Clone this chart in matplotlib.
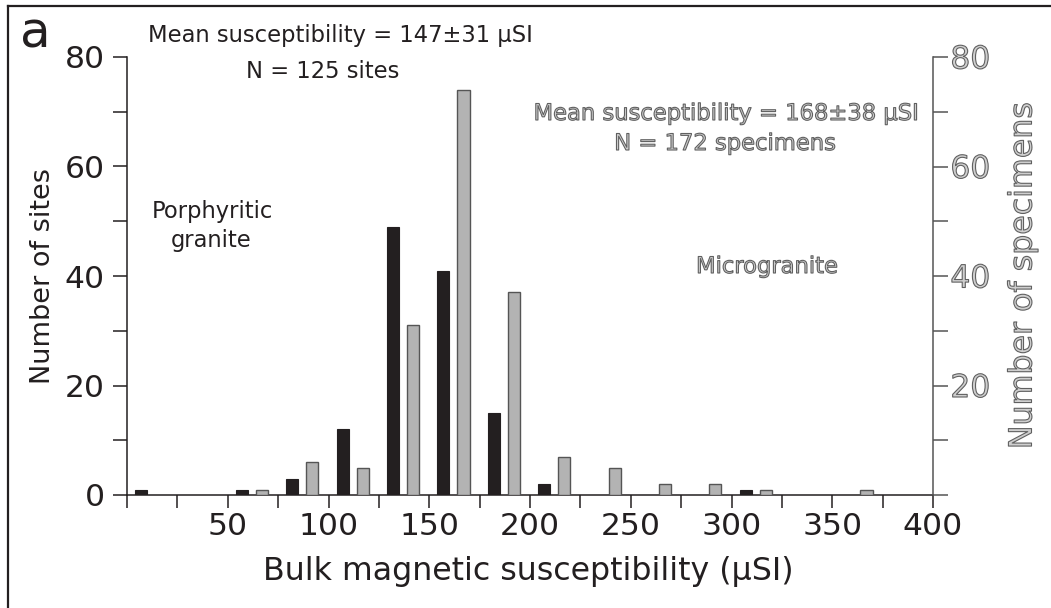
import numpy as np
import matplotlib
matplotlib.use("Agg")
import matplotlib.pyplot as plt
import matplotlib.patheffects as pe
from matplotlib.lines import Line2D

# bins of 25 uSI, left edges
bin_left = np.arange(0, 400, 25)
# porphyritic granite, number of sites per bin (N = 125)
sites = [1, 0, 1, 3, 12, 49, 41, 15, 2, 0, 0, 0, 1, 0, 0, 0]
# microgranite, number of specimens per bin (N = 172)
specimens = [0, 0, 1, 6, 5, 31, 74, 37, 7, 5, 2, 2, 1, 0, 1, 0]

x_ticks = np.arange(0, 401, 25)
x_labels = [str(v) if (v % 50 == 0 and v > 0) else '' for v in x_ticks]
y_ticks = np.arange(0, 81, 10)
y_labels_left = [str(v) if v % 20 == 0 else '' for v in y_ticks]
y_labels_right = [str(v) if (v % 20 == 0 and v > 0) else '' for v in y_ticks]

W, H = 1051, 608
black = '#231f20'
grey_fill = '#b3b3b3'
grey_line = '#555555'
txt_fill = '#cfcfcf'
outline = [pe.Stroke(linewidth=0.8, foreground='#606060')]


def fx(px):
    return px / W


def fy(py):
    return 1 - py / H


fig = plt.figure(figsize=(W / 100, H / 100), dpi=100)
ax = fig.add_axes([fx(127), fy(495), (933 - 127) / W, (495 - 57) / H])
ax2 = ax.twinx()

s = np.array(sites)
m = np.array(specimens)
ax.bar(bin_left[s > 0] + 7, s[s > 0], width=6, color=black,
       edgecolor=black, linewidth=0.8, zorder=3)
ax2.bar(bin_left[m > 0] + 17, m[m > 0], width=6, color=grey_fill,
        edgecolor=grey_line, linewidth=1.0, zorder=3)

ax.set_xlim(0, 400)
ax.set_ylim(0, 80)
ax2.set_ylim(0, 80)

for sp in ['top', 'right']:
    ax.spines[sp].set_visible(False)
for sp in ['top', 'left', 'bottom']:
    ax2.spines[sp].set_visible(False)
ax.spines['left'].set_linewidth(1.1)
ax.spines['bottom'].set_linewidth(1.1)
ax.spines['left'].set_color(black)
ax.spines['bottom'].set_color(black)
ax2.spines['right'].set_color(grey_line)
ax2.spines['right'].set_linewidth(1.1)

ax.set_xticks(x_ticks)
ax.set_xticklabels(x_labels)
ax.set_yticks(y_ticks)
ax.set_yticklabels(y_labels_left)
ax2.set_yticks(y_ticks)
ax2.set_yticklabels(y_labels_right)

ax.tick_params(axis='x', direction='out', length=9.5, width=1.1,
               color=black, labelsize=22.6, labelcolor=black, pad=3)
ax.tick_params(axis='y', direction='out', length=10, width=1.1,
               color=black, labelsize=22.6, labelcolor=black, pad=6)
ax2.tick_params(axis='y', direction='out', length=10.5, width=1.1,
                color=grey_line, labelsize=22.6, labelcolor=txt_fill, pad=2)
for lab in ax2.get_yticklabels():
    lab.set_path_effects(outline)

# axis titles
fig.text(fx(528), fy(580), 'Bulk magnetic susceptibility (µSI)',
         fontsize=22.8, color=black, ha='center', va='baseline')
fig.text(fx(43), fy(276), 'Number of sites', fontsize=19.5, color=black,
         rotation=90, ha='center', va='center')
fig.text(fx(1023), fy(276), 'Number of specimens', fontsize=22.8,
         color=txt_fill, rotation=90, ha='center', va='center',
         path_effects=outline)

# annotations
fig.text(fx(340), fy(42), 'Mean susceptibility = 147±31 µSI',
         fontsize=16.3, color=black, ha='center', va='baseline')
fig.text(fx(323), fy(78), 'N = 125 sites', fontsize=16.3, color=black,
         ha='center', va='baseline')
fig.text(fx(212), fy(218), 'Porphyritic', fontsize=16.3, color=black,
         ha='center', va='baseline')
fig.text(fx(211), fy(247), 'granite', fontsize=16.3, color=black,
         ha='center', va='baseline')
fig.text(fx(726), fy(120), 'Mean susceptibility = 168±38 µSI',
         fontsize=16.3, color=txt_fill, ha='center', va='baseline',
         path_effects=outline)
fig.text(fx(725), fy(150), 'N = 172 specimens', fontsize=16.3,
         color=txt_fill, ha='center', va='baseline', path_effects=outline)
fig.text(fx(767), fy(273), 'Microgranite', fontsize=16.3, color=txt_fill,
         ha='center', va='baseline', path_effects=outline)

# panel letter and frame
fig.text(fx(35), fy(47), 'a', fontsize=36, color=black,
         ha='center', va='baseline')
fig.add_artist(Line2D([fx(8), fx(8)], [0, fy(6)], color=black, lw=1.6))
fig.add_artist(Line2D([fx(8), 1], [fy(6), fy(6)], color=black, lw=1.6))

fig.savefig('out.png', dpi=100)
